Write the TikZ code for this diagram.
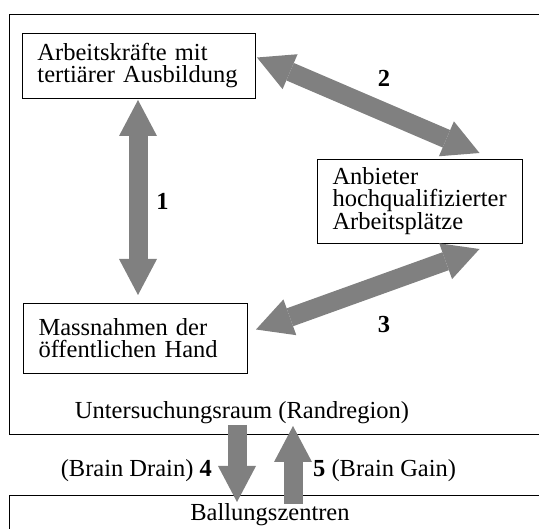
\documentclass[tikz,border=0pt]{standalone}
\usepackage{fontspec}
\setmainfont{Liberation Serif}
\usetikzlibrary{arrows.meta,calc}
\definecolor{grau}{RGB}{128,128,128}
\begin{document}
\begin{tikzpicture}[x=1pt,y=-1pt,
  schrift/.style={font=\fontsize{24.5}{22}\selectfont},
  kasten/.style={schrift,draw,line width=1pt,align=left,anchor=north west,inner xsep=15pt,inner ysep=0pt},
  spitze/.tip={Triangle[length=36pt,width=38pt,line width=0pt]},
  pfeil/.style={draw=grau,line width=19pt,-spitze},
  doppelpfeil/.style={draw=grau,line width=19pt,spitze-spitze},
  nummer/.style={font=\fontsize{24.5}{22}\selectfont\bfseries,inner sep=0pt}]
\useasboundingbox (0,0) rectangle (539,529);
\draw[line width=1pt] (539,15) -- (9,15) -- (9,435) -- (539,435);
\draw[line width=1pt] (539,496) -- (9,496) -- (9,529);
\coordinate (raum) at (265,435);
\coordinate (ballung) at (265,496);
\node[kasten,text width=203pt,minimum height=65pt] (arbeit) at (22,33) {Arbeitskräfte mit\\tertiärer Ausbildung};
\node[kasten,text width=175pt,minimum height=84pt] (anbieter) at (317,159) {Anbieter\\hochqualifizierter\\Arbeitsplätze};
\node[kasten,text width=194pt,minimum height=70pt] (hand) at (23,303) {Massnahmen der\\öffentlichen Hand};
\node[schrift,anchor=base,inner sep=0pt] (randregion) at (242,419) {Untersuchungsraum (Randregion)};
\node[schrift,anchor=base,inner sep=0pt] (zentren) at (270,521) {Ballungszentren};
\draw[doppelpfeil] ($(arbeit.south)+(-1,1)$) -- ($(arbeit.south |- hand.north)+(-1,-8)$);
\draw[doppelpfeil] ($(arbeit.east)+(1,-8.5)$) -- ($(anbieter.north)+(59.5,-6)$);
\draw[doppelpfeil] ($(anbieter.south)+(59.5,5)$) -- ($(hand.east)+(8,-9)$);
\draw[pfeil] ($(raum)+(-28,-10)$) -- ($(ballung)+(-28,6)$);
\draw[pfeil] ($(ballung)+(28,8)$) -- ($(raum)+(28,-9)$);
\node[nummer] (n1) at (162.5,201.5) {1};
\node[nummer] (n2) at (384,78.5) {2};
\node[nummer] (n3) at (384,325) {3};
\node[schrift,anchor=base east,inner sep=0pt] (n4) at (212,477) {(Brain Drain) \textbf{4}};
\node[schrift,anchor=base west,inner sep=0pt] (n5) at (313,477) {\textbf{5} (Brain Gain)};
\end{tikzpicture}
\end{document}
